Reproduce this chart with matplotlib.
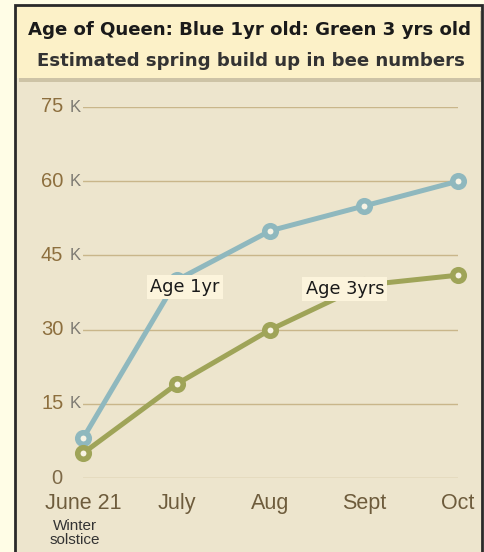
import matplotlib
matplotlib.use("Agg")
import matplotlib.pyplot as plt
from matplotlib.patches import Rectangle

# data
months = ["June 21", "July", "Aug", "Sept", "Oct"]
age_1yr = [8000, 40000, 50000, 55000, 60000]
age_3yrs = [5000, 19000, 30000, 39000, 41000]
y_ticks = [0, 15000, 30000, 45000, 60000, 75000]
y_labels = ["0", "15", "30", "45", "60", "75"]

W, H = 485, 552
fig = plt.figure(figsize=(W / 100, H / 100), dpi=100)
fig.patch.set_facecolor("#fffde6")


def px(x, y, w, h):
    # pixel box (top-left origin) -> figure fraction
    return (x / W, 1 - (y + h) / H), w / W, h / H


# frame + panel
(x0, y0), w, h = px(15, 5, 467, 560)
fig.patches.append(Rectangle((x0, y0), w, h, transform=fig.transFigure,
                             facecolor="#ede5cd", edgecolor="#2a2a2a", lw=2, zorder=0))
(x0, y0), w, h = px(19, 11, 462, 71)
fig.patches.append(Rectangle((x0, y0), w, h, transform=fig.transFigure,
                             facecolor="#cdc3a6", edgecolor="none", zorder=1))
(x0, y0), w, h = px(17, 7, 463, 71)
fig.patches.append(Rectangle((x0, y0), w, h, transform=fig.transFigure,
                             facecolor="#fcf1c8", edgecolor="none", zorder=2))

fig.text(250 / W, 1 - 30 / H, "Age of Queen: Blue 1yr old: Green 3 yrs old",
         ha="center", va="center", fontsize=13.1, fontweight="bold",
         family="DejaVu Sans", color="#1a1a1a", zorder=3)
fig.text(251 / W, 1 - 61 / H, "Estimated spring build up in bee numbers",
         ha="center", va="center", fontsize=13.1, fontweight="bold",
         family="DejaVu Sans", color="#333333", zorder=3)

ax = fig.add_axes([83 / W, 1 - 478 / H, 375 / W, 371 / H], zorder=5)
ax.set_facecolor("none")
ax.set_xlim(0, len(months) - 1)
ax.set_ylim(0, 75000)
for s in ax.spines.values():
    s.set_visible(False)

for t in y_ticks:
    ax.axhline(t, color="#c9b68a", lw=1, zorder=1)

x = range(len(months))
ax.plot(x, age_1yr, color="#8fb8be", lw=3.6, marker="o", ms=8.3, mfc="#f7f3e4",
        mec="#8fb8be", mew=4, zorder=3, clip_on=False)
ax.plot(x, age_3yrs, color="#9fa458", lw=3.6, marker="o", ms=8.3, mfc="#f7f3e4",
        mec="#9fa458", mew=4, zorder=4, clip_on=False)

ax.annotate("Age 1yr", (1, age_1yr[1]), xytext=(6, -5), textcoords="offset points",
            ha="center", va="center", fontsize=12.8, family="DejaVu Sans", color="#1a1a1a",
            bbox=dict(boxstyle="square,pad=0.18", fc="#fcf4dc", ec="none"), zorder=6)
ax.annotate("Age 3yrs", (3, age_3yrs[3]), xytext=(-14, -3), textcoords="offset points",
            ha="center", va="center", fontsize=12.8, family="DejaVu Sans", color="#1a1a1a",
            bbox=dict(boxstyle="square,pad=0.18", fc="#fcf4dc", ec="none"), zorder=6)

ax.set_yticks(y_ticks)
ax.set_yticklabels([])
ax.tick_params(axis="y", length=0)
for t, lab in zip(y_ticks, y_labels):
    if lab == "0":
        ax.text(-0.22, t, lab, ha="right", va="center", fontsize=14.5,
                family="Liberation Sans", color="#7e6a48")
    else:
        ax.text(-0.21, t, lab, ha="right", va="center", fontsize=14.5,
                family="Liberation Sans", color="#8d6f3e")
        ax.text(-0.025, t, "K", ha="right", va="center", fontsize=12,
                family="Liberation Sans", color="#7d7a72")

ax.set_xticks(list(x))
ax.set_xticklabels(months, fontsize=15.5, family="Liberation Sans", color="#6e5c3c")
ax.tick_params(axis="x", length=0, pad=11)
ax.text(-0.085, -0.11, "Winter\nsolstice", transform=ax.get_xaxis_transform(),
        ha="center", va="top", fontsize=11, family="Liberation Sans",
        color="#333333", linespacing=1.05)

fig.savefig("out.png", dpi=100, facecolor=fig.get_facecolor())
